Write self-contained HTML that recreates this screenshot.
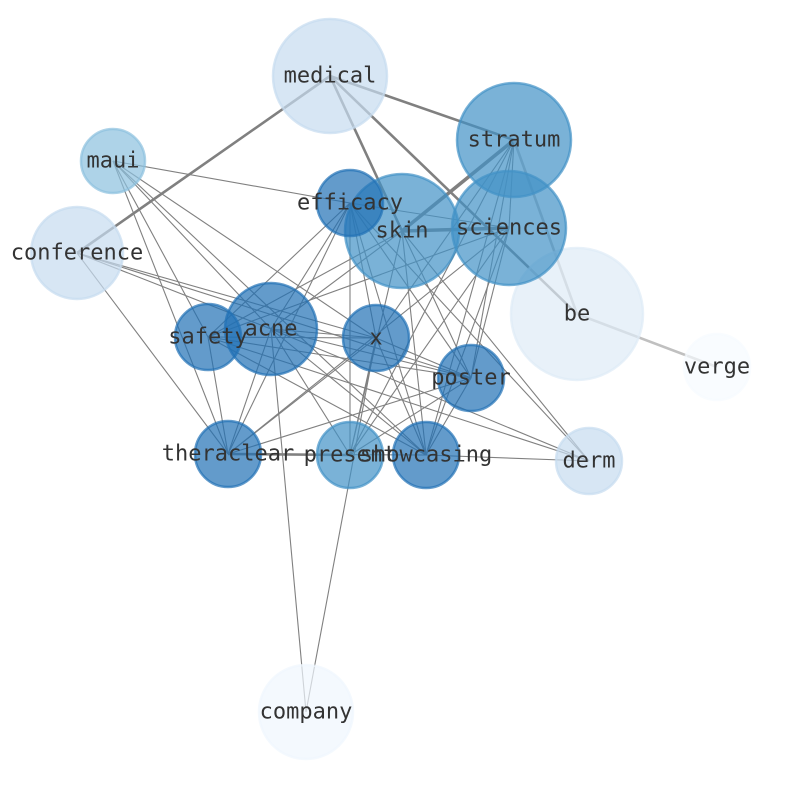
<!DOCTYPE html>
<html><head><style>body{margin:0;background:#fff}svg text{font-family:"DejaVu Sans Mono","Liberation Mono",monospace;font-size:22px;fill:#333;text-anchor:middle;dominant-baseline:central}</style></head><body>
<svg width="794" height="790" xmlns="http://www.w3.org/2000/svg">
<g stroke="#808080" stroke-width="1.1" fill="none">
<line x1="113" y1="161" x2="350" y2="203"/><line x1="113" y1="161" x2="376" y2="338"/><line x1="113" y1="161" x2="208" y2="337"/><line x1="113" y1="161" x2="228" y2="454"/><line x1="113" y1="161" x2="426" y2="455"/><line x1="113" y1="161" x2="271" y2="329"/>
<line x1="77" y1="253" x2="228" y2="454"/><line x1="77" y1="253" x2="376" y2="338"/><line x1="77" y1="253" x2="471" y2="378"/><line x1="77" y1="253" x2="271" y2="329"/>
<line x1="350" y1="203" x2="208" y2="337"/><line x1="350" y1="203" x2="271" y2="329"/><line x1="350" y1="203" x2="228" y2="454"/><line x1="350" y1="203" x2="350" y2="455"/><line x1="350" y1="203" x2="426" y2="455"/><line x1="350" y1="203" x2="376" y2="338"/><line x1="350" y1="203" x2="471" y2="378"/><line x1="350" y1="203" x2="509" y2="228"/><line x1="350" y1="203" x2="589" y2="461"/>
<line x1="402" y1="231" x2="271" y2="329"/><line x1="402" y1="231" x2="208" y2="337"/><line x1="402" y1="231" x2="426" y2="455"/><line x1="402" y1="231" x2="350" y2="455"/><line x1="402" y1="231" x2="471" y2="378"/><line x1="402" y1="231" x2="589" y2="461"/>
<line x1="509" y1="228" x2="208" y2="337"/><line x1="509" y1="228" x2="228" y2="454"/><line x1="509" y1="228" x2="350" y2="455"/><line x1="509" y1="228" x2="426" y2="455"/><line x1="509" y1="228" x2="471" y2="378"/>
<line x1="514" y1="140" x2="350" y2="455"/><line x1="514" y1="140" x2="426" y2="455"/><line x1="514" y1="140" x2="471" y2="378"/><line x1="514" y1="140" x2="509" y2="228"/><line x1="514" y1="140" x2="376" y2="338"/>
<line x1="271" y1="329" x2="306" y2="712"/><line x1="271" y1="329" x2="376" y2="338"/><line x1="271" y1="329" x2="471" y2="378"/><line x1="271" y1="329" x2="350" y2="455"/><line x1="271" y1="329" x2="426" y2="455"/><line x1="271" y1="329" x2="228" y2="454"/><line x1="271" y1="329" x2="589" y2="461"/>
<line x1="208" y1="337" x2="376" y2="338"/><line x1="208" y1="337" x2="471" y2="378"/><line x1="208" y1="337" x2="228" y2="454"/><line x1="208" y1="337" x2="426" y2="455"/><line x1="208" y1="337" x2="589" y2="461"/>
<line x1="376" y1="338" x2="350" y2="455"/><line x1="376" y1="338" x2="426" y2="455"/><line x1="376" y1="338" x2="228" y2="454"/><line x1="376" y1="338" x2="306" y2="712"/><line x1="376" y1="338" x2="471" y2="378"/>
<line x1="228" y1="454" x2="426" y2="455"/><line x1="228" y1="454" x2="471" y2="378"/><line x1="426" y1="455" x2="589" y2="461"/><line x1="426" y1="455" x2="471" y2="378"/><line x1="350" y1="455" x2="471" y2="378"/>
</g>
<g stroke="#808080" stroke-width="2.6">
<line x1="330" y1="76" x2="514" y2="140"/><line x1="330" y1="76" x2="77" y2="253"/><line x1="330" y1="76" x2="402" y2="231"/><line x1="330" y1="76" x2="577" y2="314"/><line x1="514" y1="140" x2="402" y2="231" stroke-width="3.5"/><line x1="402" y1="231" x2="509" y2="228" stroke-width="3.5"/><line x1="228" y1="454" x2="350" y2="455"/>
</g>
<g stroke="#c0c0c0" stroke-width="2.6"><line x1="577" y1="314" x2="717" y2="367"/><line x1="514" y1="140" x2="577" y2="314"/></g>
<g stroke-width="2.5" fill-opacity="0.7" stroke-opacity="0.7">
<circle cx="330" cy="76" r="57" fill="#c6dbef" stroke="#c6dbef"/>
<circle cx="514" cy="140" r="57" fill="#4292c6" stroke="#4292c6"/>
<circle cx="113" cy="161" r="32" fill="#8cc0de" stroke="#8cc0de"/>
<circle cx="77" cy="253" r="46" fill="#c6dbef" stroke="#c6dbef"/>
<circle cx="577" cy="314" r="66" fill="#deebf7" stroke="#deebf7"/>
<circle cx="717" cy="367" r="33" fill="#f7fbff" stroke="#f7fbff"/>
<circle cx="306" cy="712" r="47" fill="#f0f6fd" stroke="#f0f6fd"/>
<circle cx="589" cy="461" r="33" fill="#c6dbef" stroke="#c6dbef"/>
<circle cx="402" cy="231" r="57" fill="#4292c6" stroke="#4292c6"/>
<circle cx="509" cy="228" r="57" fill="#4292c6" stroke="#4292c6"/>
<circle cx="350" cy="203" r="33" fill="#2171b5" stroke="#2171b5"/>
<circle cx="271" cy="329" r="46" fill="#2171b5" stroke="#2171b5"/>
<circle cx="208" cy="337" r="33" fill="#2171b5" stroke="#2171b5"/>
<circle cx="376" cy="338" r="33" fill="#2171b5" stroke="#2171b5"/>
<circle cx="471" cy="378" r="33" fill="#2171b5" stroke="#2171b5"/>
<circle cx="228" cy="454" r="33" fill="#2171b5" stroke="#2171b5"/>
<circle cx="350" cy="455" r="33" fill="#4292c6" stroke="#4292c6"/>
<circle cx="426" cy="455" r="33" fill="#2171b5" stroke="#2171b5"/>
</g>
<text x="330" y="76">medical</text><text x="514" y="140">stratum</text><text x="113" y="161">maui</text><text x="350" y="203">efficacy</text><text x="402" y="231">skin</text><text x="509" y="228">sciences</text><text x="77" y="253">conference</text><text x="577" y="314">be</text><text x="717" y="367">verge</text><text x="271" y="329">acne</text><text x="208" y="337">safety</text><text x="376" y="338">x</text><text x="471" y="378">poster</text><text x="228" y="454">theraclear</text><text x="350" y="455">present</text><text x="426" y="455">showcasing</text><text x="589" y="461">derm</text><text x="306" y="712">company</text>
</svg></body></html>
